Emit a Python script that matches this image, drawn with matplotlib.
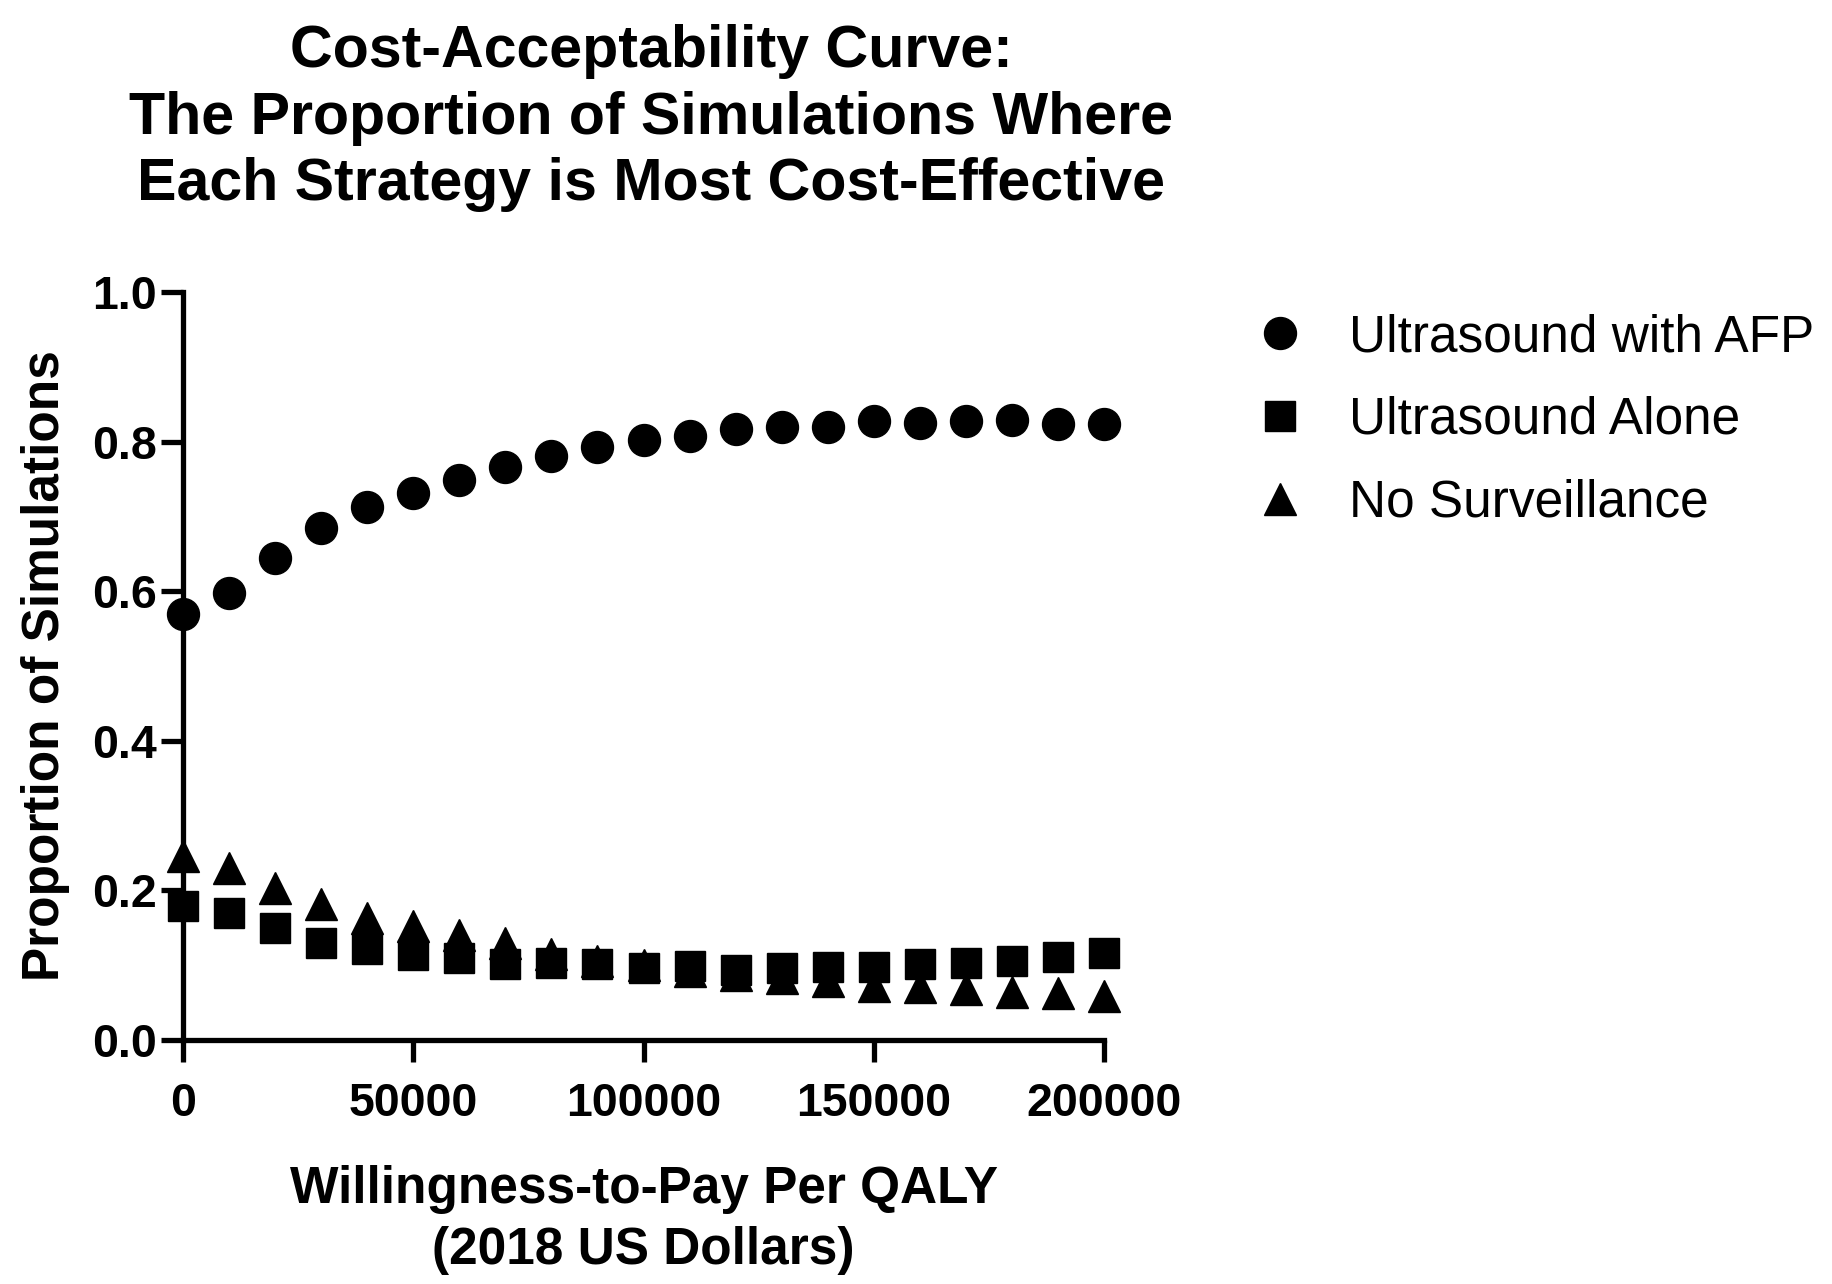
import matplotlib
matplotlib.use("Agg")
import matplotlib.pyplot as plt
from matplotlib.ticker import FixedLocator

plt.rcParams['font.family'] = ['Liberation Sans', 'DejaVu Sans']

wtp = [0, 10000, 20000, 30000, 40000, 50000, 60000, 70000, 80000, 90000, 100000,
       110000, 120000, 130000, 140000, 150000, 160000, 170000, 180000, 190000, 200000]
us_afp = [0.569, 0.598, 0.645, 0.684, 0.713, 0.731, 0.749, 0.766, 0.781, 0.793, 0.802,
          0.808, 0.817, 0.819, 0.820, 0.827, 0.825, 0.827, 0.829, 0.824, 0.823]
us_alone = [0.179, 0.170, 0.150, 0.130, 0.122, 0.114, 0.109, 0.102, 0.103, 0.102, 0.096,
            0.099, 0.094, 0.096, 0.098, 0.098, 0.102, 0.103, 0.105, 0.111, 0.116]
no_surv = [0.246, 0.230, 0.203, 0.182, 0.163, 0.152, 0.140, 0.130, 0.115, 0.105, 0.100,
           0.092, 0.087, 0.083, 0.079, 0.072, 0.071, 0.068, 0.064, 0.063, 0.059]

labels = ["Ultrasound with AFP", "Ultrasound Alone", "No Surveillance"]
x_ticks = [0, 50000, 100000, 150000, 200000]
y_ticks = [0.0, 0.2, 0.4, 0.6, 0.8, 1.0]

W, H = 1832, 1284
fig = plt.figure(figsize=(W / 100, H / 100), dpi=100)
ax = fig.add_axes([183 / W, 1 - 1040 / H, (1104 - 183) / W, (1040 - 292) / H])

ms = 23
ax.plot(wtp, us_afp, 'o', color='black', markersize=ms, label=labels[0], clip_on=False, zorder=3)
ax.plot(wtp, us_alone, 's', color='black', markersize=ms - 1, label=labels[1], clip_on=False, zorder=3)
ax.plot(wtp, no_surv, '^', color='black', markersize=ms, label=labels[2], clip_on=False, zorder=3)

ax.set_xlim(0, 200000)
ax.set_ylim(0, 1.0)
ax.xaxis.set_major_locator(FixedLocator(x_ticks))
ax.yaxis.set_major_locator(FixedLocator(y_ticks))
ax.set_xticklabels([str(v) for v in x_ticks])
ax.set_yticklabels([f"{v:.1f}" for v in y_ticks])

for s in ['top', 'right']:
    ax.spines[s].set_visible(False)
for s in ['left', 'bottom']:
    ax.spines[s].set_linewidth(3.8)
ax.tick_params(axis='both', width=3.8, length=16, labelsize=33.5)
ax.tick_params(axis='y', pad=3)
ax.tick_params(axis='x', pad=14)
for lab in ax.get_xticklabels() + ax.get_yticklabels():
    lab.set_fontweight('bold')

ax.set_xlabel("Willingness-to-Pay Per QALY\n(2018 US Dollars)", fontsize=37,
              fontweight='bold', linespacing=1.3)
ax.xaxis.set_label_coords(0.5, -0.1677)
ax.set_ylabel("Proportion of Simulations", fontsize=37, fontweight='bold')
ax.yaxis.set_label_coords(-0.1225, 0.5)

fig.text(651 / W, 1 - 118 / H,
         "Cost-Acceptability Curve:\nThe Proportion of Simulations Where\nEach Strategy is Most Cost-Effective",
         ha='center', va='center', fontsize=42.6, fontweight='bold', linespacing=1.27)

leg = ax.legend(loc='upper left', bbox_to_anchor=(1254 / W, 1 - 313 / H),
                bbox_transform=fig.transFigure, frameon=False, fontsize=37,
                numpoints=1, handlelength=1.0, handletextpad=0.85,
                labelspacing=0.66, borderpad=0, borderaxespad=0, markerscale=1.0)

fig.savefig("out.png", dpi=100)
